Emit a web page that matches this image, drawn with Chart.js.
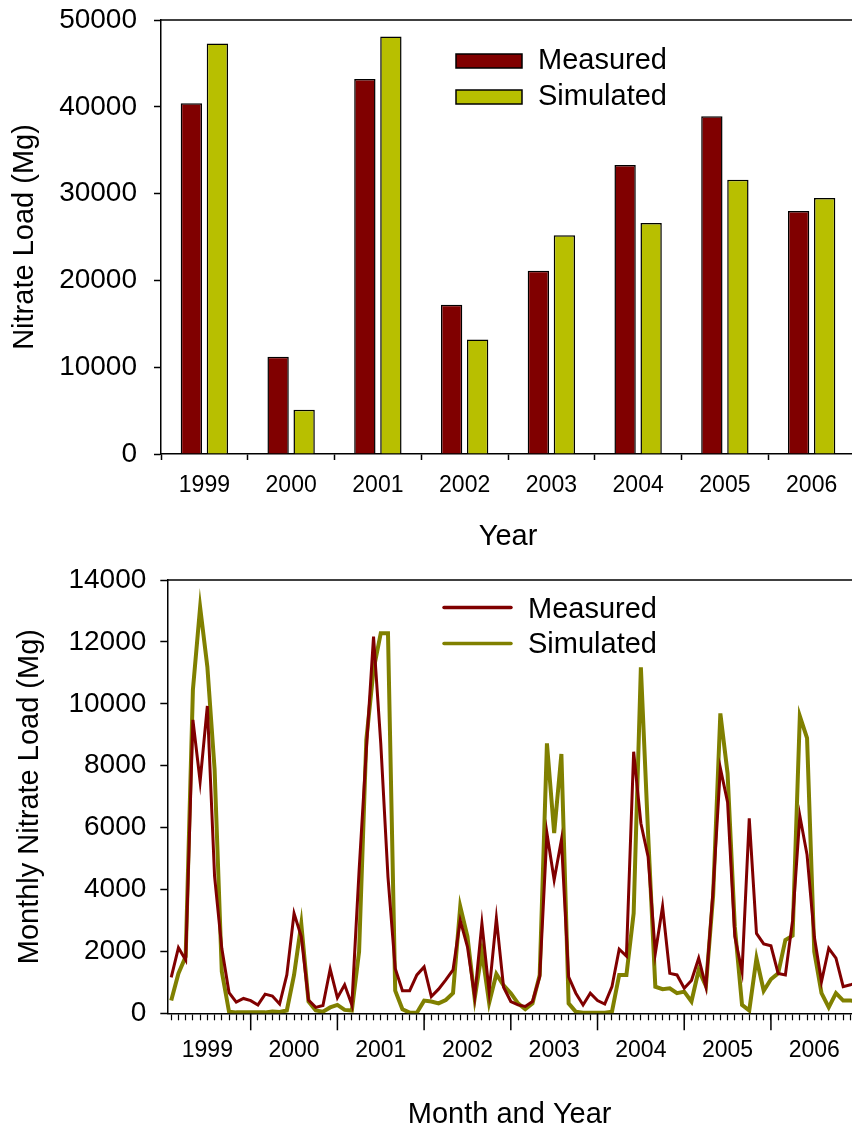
<!DOCTYPE html>
<html>
<head>
<meta charset="utf-8">
<script src="https://cdn.jsdelivr.net/npm/chart.js@4"></script>
<style>
  html, body { margin: 0; padding: 0; background: #fff; overflow: hidden; }
  #page { position: relative; width: 852px; height: 1126px; overflow: hidden; }
  #annualChart { position: absolute; left: 0; top: 0; }
  #monthlyChart { position: absolute; left: 0; top: 560px; }
</style>
</head>
<body>
<div id="page">
  <canvas id="annualChart" width="855" height="560"></canvas>
  <canvas id="monthlyChart" width="852" height="580"></canvas>
</div>
<script>
// --- Data ---

const years = ['1999', '2000', '2001', '2002', '2003', '2004', '2005', '2006'];

// annual nitrate load (Mg)
const measuredAnnual = [40400, 11200, 43200, 17200, 21100, 33300, 38900, 28000];
const simulatedAnnual = [47300, 5100, 48100, 13200, 25200, 26600, 31600, 29500];

// monthly nitrate load (Mg), Jan 1999 .. Dec 2006
const measuredMonthly = [
    1160, 2120, 1720, 9480, 7490, 9930, 4420, 2100, 670, 360, 480, 410,
    270, 620, 560, 300, 1240, 3230, 2480, 430, 190, 250, 1430, 500,
    920, 270, 4600, 8500, 12170, 8720, 4400, 1450, 730, 730, 1240, 1500,
    540, 780, 1080, 1400, 3000, 2150, 540, 2900, 700, 3070, 840, 380,
    270, 220, 380, 1180, 5820, 4310, 5600, 1180, 650, 270, 650, 410,
    300, 860, 2070, 1850, 8450, 6140, 5060, 1940, 3450, 1290, 1240, 810,
    1060, 1780, 860, 4000, 7920, 6820, 2480, 1350, 6300, 2580, 2240, 2180,
    1290, 1240, 3000, 6380, 5120, 2480, 1020, 2100, 1780, 860, 920, 1000
];
const simulatedMonthly = [
    410, 1290, 1830, 10450, 13120, 11200, 7900, 1350, 50, 30, 30, 30,
    30, 30, 60, 40, 90, 1240, 2890, 380, 90, 50, 190, 270,
    110, 90, 1990, 8830, 11100, 12280, 12280, 730, 130, 20, 20, 410,
    380, 320, 430, 650, 3450, 2480, 480, 1990, 340, 1270, 900, 650,
    320, 130, 320, 1240, 8720, 5820, 8380, 320, 50, 20, 20, 20,
    20, 50, 1240, 1240, 3230, 11180, 5800, 860, 780, 810, 650, 700,
    380, 1400, 880, 3800, 9690, 7750, 2800, 270, 90, 1780, 730, 1100,
    1290, 2370, 2510, 9600, 8890, 1990, 650, 190, 650, 410, 410, 400
];

const MEASURED_COLOR = '#800000';
const SIM_BAR_COLOR = '#b8bf00';
const SIM_LINE_COLOR = '#808000';
const FONT = 'Arial, "Liberation Sans", sans-serif';

Chart.defaults.font.family = FONT;
Chart.defaults.color = '#000';
Chart.defaults.animation = false;

// points sit at the end of each month (month 1 = end of Jan 1999)
const toPoints = arr => arr.map((v, i) => ({ x: i + 1, y: v }));

// pin the axis box size and drop the label overhang padding
function pinWidth(w) {
    return s => { s.width = w; s.paddingTop = 0; s.paddingBottom = 0; };
}
function pinHeight(h) {
    return s => { s.height = h; s.paddingLeft = 0; s.paddingRight = 0; };
}

// --- Plugin: top frame, yearly ticks and in-plot legend ---

const figureExtras = {
    id: 'figureExtras',
    afterDraw(chart, args, opts) {
        const { ctx, chartArea } = chart;
        ctx.save();
        ctx.strokeStyle = '#000';
        ctx.lineWidth = 1.5;
        ctx.beginPath();
        ctx.moveTo(chartArea.left, chartArea.top);
        ctx.lineTo(chartArea.right, chartArea.top);
        ctx.stroke();

        if (opts.majorTicks) {
            const xs = chart.scales.x;
            opts.majorTicks.forEach(v => {
                const px = xs.getPixelForValue(v);
                ctx.beginPath();
                ctx.moveTo(px, chartArea.bottom);
                ctx.lineTo(px, chartArea.bottom + opts.majorLength);
                ctx.stroke();
            });
        }

        const lg = opts.legend;
        chart.data.datasets.forEach((ds, i) => {
            const y = lg.markY[i];
            if (lg.type === 'box') {
                ctx.fillStyle = ds.backgroundColor;
                ctx.fillRect(lg.x, y - lg.boxH / 2, lg.boxW, lg.boxH);
                ctx.lineWidth = 1.5;
                ctx.strokeStyle = '#000';
                ctx.strokeRect(lg.x, y - lg.boxH / 2, lg.boxW, lg.boxH);
            } else {
                ctx.strokeStyle = ds.borderColor;
                ctx.lineWidth = 3.5;
                ctx.lineCap = 'round';
                ctx.beginPath();
                ctx.moveTo(lg.x, y);
                ctx.lineTo(lg.x + lg.boxW, y);
                ctx.stroke();
            }
            ctx.fillStyle = '#000';
            ctx.font = '29px ' + FONT;
            ctx.textBaseline = 'middle';
            ctx.textAlign = 'left';
            ctx.fillText(ds.label, lg.textX, lg.textY[i]);
        });
        ctx.restore();
    }
};

// --- Annual bar chart ---

new Chart(document.getElementById('annualChart'), {
    type: 'bar',
    data: {
        labels: years,
        datasets: [{
            label: 'Measured',
            data: measuredAnnual,
            backgroundColor: MEASURED_COLOR,
            borderColor: '#000',
            borderWidth: 1.5,
            borderSkipped: 'bottom'
        }, {
            label: 'Simulated',
            data: simulatedAnnual,
            backgroundColor: SIM_BAR_COLOR,
            borderColor: '#000',
            borderWidth: 1.5,
            borderSkipped: 'bottom'
        }]
    },
    options: {
        responsive: false,
        layout: { padding: { top: 20, left: 0, right: 0, bottom: 0 } },
        categoryPercentage: 0.6,
        barPercentage: 0.82,
        plugins: {
            legend: { display: false },
            tooltip: { enabled: false },
            figureExtras: {
                legend: {
                    type: 'box', x: 456, boxW: 66, boxH: 14,
                    markY: [61, 97], textX: 538, textY: [61, 97]
                }
            }
        },
        scales: {
            x: {
                grid: { drawOnChartArea: false, tickLength: 6, tickColor: '#000', tickWidth: 1.5 },
                border: { color: '#000', width: 1.5 },
                ticks: { font: { size: 23 }, padding: 12, maxRotation: 0 },
                title: { display: true, text: 'Year', font: { size: 29 }, padding: { top: 0, bottom: 6 } },
                afterFit: pinHeight(106)
            },
            y: {
                min: 0, max: 50000,
                grid: { drawOnChartArea: false, tickLength: 7, tickColor: '#000', tickWidth: 1.5 },
                border: { color: '#000', width: 1.5 },
                ticks: { stepSize: 10000, font: { size: 28 }, padding: 17, callback: v => String(v) },
                title: { display: true, text: 'Nitrate Load (Mg)', font: { size: 29 }, padding: { top: 8, bottom: 0 } },
                afterFit: pinWidth(161)
            }
        }
    },
    plugins: [figureExtras]
});

// --- Monthly line chart ---

new Chart(document.getElementById('monthlyChart'), {
    type: 'line',
    data: {
        datasets: [{
            label: 'Measured',
            data: toPoints(measuredMonthly),
            borderColor: MEASURED_COLOR,
            borderWidth: 3,
            pointRadius: 0,
            tension: 0
        }, {
            label: 'Simulated',
            data: toPoints(simulatedMonthly),
            borderColor: SIM_LINE_COLOR,
            borderWidth: 4,
            pointRadius: 0,
            tension: 0
        }]
    },
    options: {
        responsive: false,
        layout: { padding: { top: 20, left: 0, right: 0, bottom: 0 } },
        plugins: {
            legend: { display: false },
            tooltip: { enabled: false },
            figureExtras: {
                majorTicks: [12, 24, 36, 48, 60, 72, 84],
                majorLength: 17,
                legend: {
                    type: 'line', x: 444, boxW: 67,
                    markY: [47.5, 83.5], textX: 528, textY: [49.7, 85]
                }
            }
        },
        scales: {
            x: {
                type: 'linear',
                min: 0.457, max: 95.22,
                afterBuildTicks(s) {
                    s.ticks = measuredMonthly.slice(0, 95).map((v, i) => ({ value: i + 1 }));
                },
                grid: { drawOnChartArea: false, tickLength: 7, tickColor: '#000', tickWidth: 1.2 },
                border: { color: '#000', width: 1.5 },
                ticks: {
                    autoSkip: false, maxRotation: 0, font: { size: 23 }, padding: 17,
                    callback: v => ((v - 6) % 12 === 0 ? years[(v - 6) / 12] : '')
                },
                title: { display: true, text: 'Month and Year', font: { size: 29 }, padding: { top: 0, bottom: 8 } },
                afterFit: pinHeight(126.7)
            },
            y: {
                min: 0, max: 14000,
                grid: { drawOnChartArea: false, tickLength: 7, tickColor: '#000', tickWidth: 1.5 },
                border: { color: '#000', width: 1.5 },
                ticks: { stepSize: 2000, font: { size: 28 }, padding: 14, callback: v => String(v) },
                title: { display: true, text: 'Monthly Nitrate Load (Mg)', font: { size: 29 }, padding: { top: 13, bottom: 0 } },
                afterFit: pinWidth(167.3)
            }
        }
    },
    plugins: [figureExtras]
});
</script>
</body>
</html>
